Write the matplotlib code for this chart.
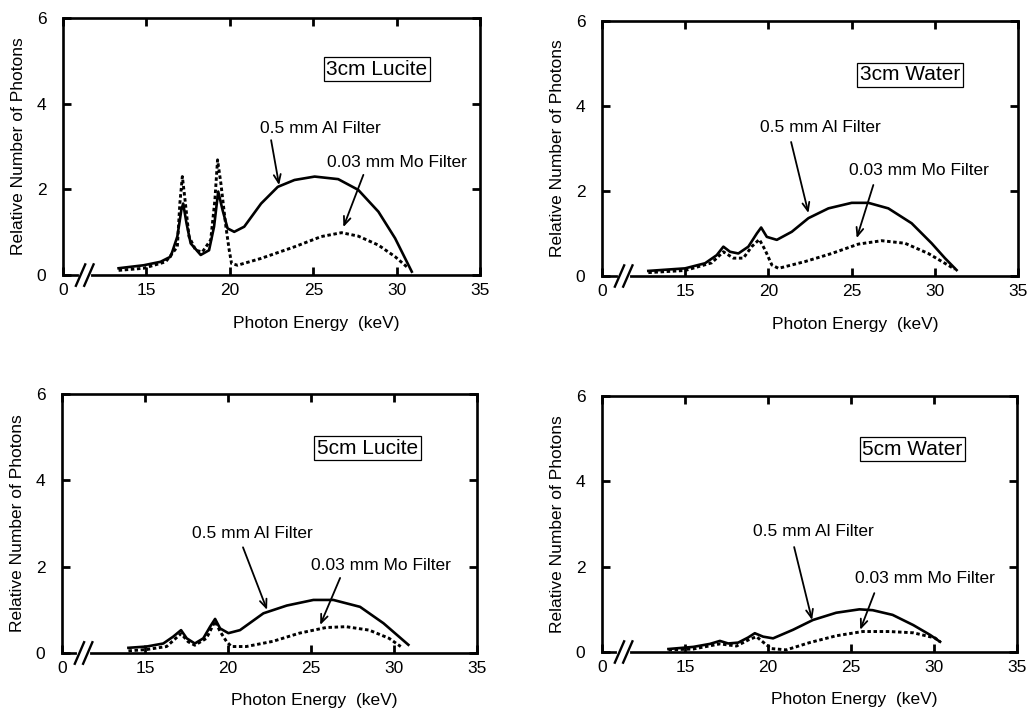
import matplotlib
matplotlib.use('Agg')
from matplotlib import pyplot as plt

plt.rcParams['font.family'] = ['Liberation Sans', 'DejaVu Sans']

# panel titles and filter names
titles = ['3cm Lucite', '3cm Water', '5cm Lucite', '5cm Water']
al_label = '0.5 mm Al Filter'
mo_label = '0.03 mm Mo Filter'

# x ticks: axis starts at 10 keV but the first label reads 0 (broken axis)
xtick_pos = [10, 15, 20, 25, 30, 35]
xtick_lab = ['0', '15', '20', '25', '30', '35']
ytick_pos = [0, 2, 4, 6]

# --- 3cm Lucite ---
lu3_al_e = [13.33, 14.84, 15.84, 16.45, 16.85, 17.09, 17.2, 17.4, 17.65, 18.25, 18.75, 19.05,
            19.3, 19.56, 19.86, 20.26, 20.86, 21.87, 22.87, 23.87, 25.08, 26.49, 27.69, 28.9,
            29.9, 30.9]
lu3_al_y = [0.16, 0.23, 0.31, 0.43, 0.9, 1.52, 1.67, 1.21, 0.74, 0.47, 0.58, 1.13,
            1.95, 1.52, 1.09, 1.01, 1.13, 1.67, 2.06, 2.22, 2.3, 2.24, 1.99, 1.48,
            0.86, 0.08]
lu3_mo_e = [13.33, 14.84, 16.15, 16.85, 17.0, 17.15, 17.29, 17.55, 17.95, 18.35, 18.85, 19.1,
            19.26, 19.46, 19.76, 19.96, 20.1, 20.46, 21.87, 23.87, 25.48, 26.69, 27.69, 28.9,
            29.9, 30.7]
lu3_mo_y = [0.11, 0.16, 0.31, 0.66, 1.67, 2.3, 1.83, 0.9, 0.58, 0.54, 0.82, 1.75,
            2.69, 2.14, 1.13, 0.58, 0.27, 0.23, 0.39, 0.66, 0.9, 0.99, 0.91, 0.7,
            0.43, 0.16]

# --- 3cm Water ---
wa3_al_e = [12.78, 14.99, 16.19, 16.89, 17.29, 17.69, 18.19, 18.79, 19.3, 19.56, 19.9,
            20.5, 21.4, 22.4, 23.6, 25.0, 26.0, 27.2, 28.6, 29.8, 30.6, 31.3]
wa3_al_y = [0.12, 0.18, 0.3, 0.49, 0.69, 0.57, 0.53, 0.69, 1.0, 1.14, 0.92,
            0.85, 1.04, 1.36, 1.59, 1.72, 1.72, 1.59, 1.24, 0.77, 0.42, 0.14]
wa3_mo_e = [12.78, 14.99, 16.59, 17.29, 17.89, 18.49, 18.99, 19.45, 19.8, 20.2, 20.6,
            22.2, 23.8, 25.4, 26.8, 28.2, 29.6, 31.2]
wa3_mo_y = [0.08, 0.13, 0.31, 0.57, 0.42, 0.42, 0.69, 0.86, 0.61, 0.26, 0.18,
            0.34, 0.53, 0.75, 0.83, 0.77, 0.53, 0.16]

# --- 5cm Lucite ---
lu5_al_e = [14.0, 15.1, 16.1, 16.7, 17.17, 17.51, 18.0, 18.51, 18.92, 19.22, 19.52,
            20.02, 20.72, 22.13, 23.54, 25.14, 26.34, 27.95, 29.36, 30.86]
lu5_al_y = [0.12, 0.15, 0.22, 0.38, 0.53, 0.34, 0.22, 0.34, 0.61, 0.79, 0.57,
            0.46, 0.53, 0.92, 1.1, 1.23, 1.23, 1.07, 0.69, 0.19]
lu5_mo_e = [14.0, 15.1, 16.3, 17.17, 17.6, 18.0, 18.7, 19.22, 19.52, 19.9, 20.2,
            21.1, 22.7, 24.3, 25.9, 27.1, 28.5, 29.7, 30.4]
lu5_mo_y = [0.05, 0.08, 0.15, 0.45, 0.26, 0.18, 0.34, 0.74, 0.5, 0.27, 0.15,
            0.15, 0.27, 0.46, 0.59, 0.61, 0.53, 0.34, 0.15]

# --- 5cm Water ---
wa5_al_e = [14.0, 15.5, 16.5, 17.1, 17.6, 18.2, 18.8, 19.2, 19.7, 20.3, 21.5,
            22.7, 24.1, 25.5, 26.3, 27.5, 28.75, 29.76, 30.36]
wa5_al_y = [0.07, 0.12, 0.19, 0.26, 0.2, 0.22, 0.34, 0.44, 0.36, 0.32, 0.52,
            0.75, 0.92, 1.0, 0.98, 0.87, 0.63, 0.4, 0.24]
wa5_mo_e = [14.0, 15.5, 17.1, 18.1, 18.8, 19.3, 19.8, 20.2, 21.1, 22.5, 24.1,
            25.7, 27.3, 28.75, 30.05, 30.36]
wa5_mo_y = [0.05, 0.07, 0.19, 0.14, 0.28, 0.36, 0.2, 0.08, 0.05, 0.22, 0.38,
            0.48, 0.48, 0.45, 0.33, 0.24]

al_e = [lu3_al_e, wa3_al_e, lu5_al_e, wa5_al_e]
al_y = [lu3_al_y, wa3_al_y, lu5_al_y, wa5_al_y]
mo_e = [lu3_mo_e, wa3_mo_e, lu5_mo_e, wa5_mo_e]
mo_y = [lu3_mo_y, wa3_mo_y, lu5_mo_y, wa5_mo_y]

# annotation placement (data coords): box, label text, arrow start -> tip
box_xy = [(28.8, 4.8), (28.5, 4.73), (28.4, 4.75), (28.7, 4.75)]
al_text_xy = [(25.4, 3.43), (23.1, 3.5), (21.45, 2.78), (22.7, 2.83)]
al_arrow = [((22.47, 3.15), (22.95, 2.1)), ((21.36, 3.15), (22.4, 1.48)),
            ((20.9, 2.45), (22.35, 1.0)), ((21.57, 2.46), (22.65, 0.75))]
mo_text_xy = [(30.0, 2.64), (29.05, 2.49), (29.2, 2.04), (29.45, 1.73)]
mo_arrow = [((28.0, 2.34), (26.8, 1.12)), ((26.3, 2.14), (25.3, 0.89)),
            ((26.75, 1.74), (25.55, 0.65)), ((26.4, 1.38), (25.55, 0.52))]

positions = [[0.0612, 0.612, 0.405, 0.3625],
             [0.5845, 0.6107, 0.404, 0.36],
             [0.0602, 0.079, 0.403, 0.365],
             [0.5845, 0.0804, 0.403, 0.361]]

fig = plt.figure(figsize=(10.3, 7.09), dpi=100)

for i in range(4):
    ax = fig.add_axes(positions[i])
    ax.plot(al_e[i], al_y[i], color='black', lw=1.9, solid_joinstyle='round')
    ax.plot(mo_e[i], mo_y[i], color='black', lw=2.1, linestyle=(0, (1.2, 0.9)))

    ax.set_xlim(10, 35)
    ax.set_ylim(0, 6)
    ax.set_xticks(xtick_pos)
    ax.set_xticklabels(xtick_lab)
    ax.set_yticks(ytick_pos)
    ax.tick_params(direction='in', length=6, width=2, labelsize=12.5,
                   top=True, right=True)
    ax.tick_params(axis='x', pad=6)
    ax.tick_params(axis='y', pad=12)
    for s in ax.spines.values():
        s.set_linewidth(1.9)

    ax.set_ylabel('Relative Number of Photons', fontsize=12.5, labelpad=8)
    ax.annotate('Photon Energy  (keV)', xy=(25.2, 0), xycoords=('data', 'axes fraction'),
                xytext=(0, -48), textcoords='offset pixels', ha='center', va='center',
                fontsize=12.5)

    # axis break marks
    ax.plot([11.05, 11.55], [0, 0], color='white', lw=3, clip_on=False, zorder=5)
    for xb in [11.05, 11.55]:
        ax.plot([xb - 0.28, xb + 0.28], [-0.25, 0.25], color='black', lw=1.7,
                clip_on=False, zorder=6)

    ax.text(box_xy[i][0], box_xy[i][1], titles[i], fontsize=15, ha='center', va='center',
            bbox=dict(boxstyle='square,pad=0.12', fc='white', ec='black', lw=0.9))
    ax.text(al_text_xy[i][0], al_text_xy[i][1], al_label, fontsize=12.5,
            ha='center', va='center')
    ax.text(mo_text_xy[i][0], mo_text_xy[i][1], mo_label, fontsize=12.5,
            ha='center', va='center')
    ax.annotate('', xy=al_arrow[i][1], xytext=al_arrow[i][0],
                arrowprops=dict(arrowstyle='->,head_length=0.6,head_width=0.25',
                                color='black', lw=1.3, shrinkA=0, shrinkB=0))
    ax.annotate('', xy=mo_arrow[i][1], xytext=mo_arrow[i][0],
                arrowprops=dict(arrowstyle='->,head_length=0.6,head_width=0.25',
                                color='black', lw=1.3, shrinkA=0, shrinkB=0))

fig.savefig('out.png', dpi=100)
